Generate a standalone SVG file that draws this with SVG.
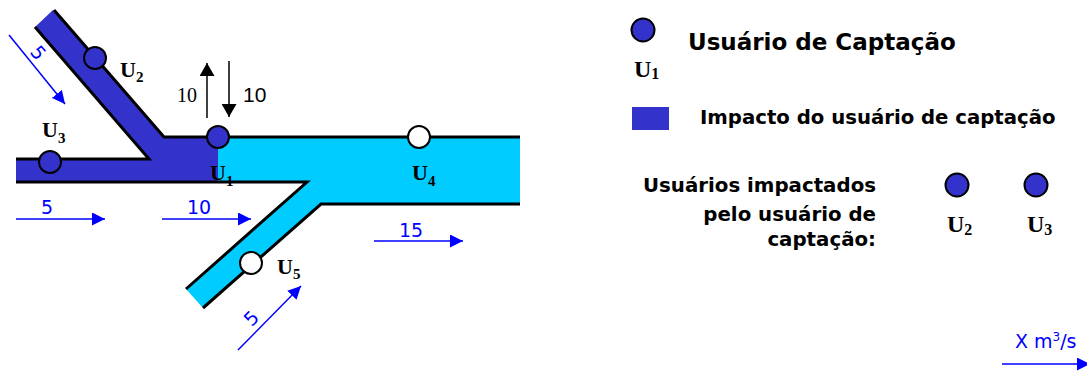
<svg xmlns="http://www.w3.org/2000/svg" width="1087" height="371" viewBox="0 0 1087 371">
<style>
.edge{fill:none;stroke:#000;stroke-width:3;stroke-linejoin:miter}
.node{stroke:#000;stroke-width:2}
.imp{fill:#3333CC}
.free{fill:#FFFFFF}
.ulab{font-family:"Liberation Serif",serif;font-weight:bold;font-size:22px;fill:#000}
.usub{font-size:15px}
.ulab.big{font-size:24px}
.big .usub{font-size:16px}
.flow{font-family:"DejaVu Sans",sans-serif;font-size:19px;fill:#0000FF}
.blue{stroke:#0000FF;stroke-width:1.5;fill:none}
.blk{stroke:#000;stroke-width:1.5;fill:none}
.leg{font-family:"DejaVu Sans",sans-serif;font-weight:bold;fill:#000}
</style>
<defs>
<marker id="ab" markerUnits="userSpaceOnUse" markerWidth="14" markerHeight="13" refX="13" refY="6.5" orient="auto"><path d="M0,0 L13,6.5 L0,13 z" fill="#0000FF"/></marker>
<marker id="ak" markerUnits="userSpaceOnUse" markerWidth="14" markerHeight="15" refX="13" refY="7.5" orient="auto"><path d="M0,0 L13,7.5 L0,15 z" fill="#000"/></marker>
</defs>
<g id="river">
<polygon points="53,10 164,137 218,137 218,182 16,182 16,159 149,159 35,27" fill="#3333CC"/>
<polygon points="218,137 520,137 520,204 321,204 203,308 186,289 307,182 218,182" fill="#00CCFF"/>
<polyline class="edge" points="54,10 164,137 520,137"/>
<polyline class="edge" points="35,27 149,159 16,159"/>
<polyline class="edge" points="16,182 307,182 186,289"/>
<polyline class="edge" points="203,308 321,204 520,204"/>
</g>
<g id="connectors">
<line class="blue" x1="9" y1="35" x2="65" y2="104" marker-end="url(#ab)"/>
<line class="blue" x1="16" y1="219" x2="105" y2="219" marker-end="url(#ab)"/>
<line class="blue" x1="162" y1="219" x2="251" y2="219" marker-end="url(#ab)"/>
<line class="blue" x1="374" y1="241" x2="463" y2="241" marker-end="url(#ab)"/>
<line class="blue" x1="238" y1="350" x2="301" y2="286" marker-end="url(#ab)"/>
<line class="blk" x1="207" y1="118" x2="207" y2="63" marker-end="url(#ak)"/>
<line class="blk" x1="229" y1="61" x2="229" y2="117" marker-end="url(#ak)"/>
<line class="blue" x1="1002" y1="364" x2="1090" y2="364" marker-end="url(#ab)"/>
<text class="flow" text-anchor="middle" transform="translate(33,57) rotate(51)">5</text>
<text class="flow" x="41" y="214">5</text>
<text class="flow" x="187" y="214">10</text>
<text class="flow" x="399" y="237">15</text>
<text class="flow" text-anchor="middle" transform="translate(256,323) rotate(-45)">5</text>
<text x="177" y="102" font-family="Liberation Serif,serif" font-size="20" fill="#000">10</text>
<text x="243" y="102" font-family="Liberation Sans,sans-serif" font-size="21" fill="#000">10</text>
<text class="flow" x="1015" y="348">X m<tspan style="font-size:12px" dy="-7">3</tspan><tspan dy="7">/s</tspan></text>
</g>
<g id="U1">
<circle class="node imp" cx="218" cy="137" r="11"/>
<text class="ulab" x="210" y="180">U<tspan class="usub" dy="6">1</tspan></text>
</g>
<g id="U2">
<circle class="node imp" cx="95" cy="58" r="11"/>
<text class="ulab" x="120" y="77">U<tspan class="usub" dy="5">2</tspan></text>
</g>
<g id="U3">
<circle class="node imp" cx="50" cy="162" r="11"/>
<text class="ulab" x="42" y="137">U<tspan class="usub" dy="6">3</tspan></text>
</g>
<g id="U4">
<circle class="node free" cx="419" cy="137" r="11"/>
<text class="ulab" x="412" y="180">U<tspan class="usub" dy="6">4</tspan></text>
</g>
<g id="U5">
<circle class="node free" cx="251" cy="263" r="11"/>
<text class="ulab" x="277" y="274">U<tspan class="usub" dy="5">5</tspan></text>
</g>
<g id="legend-captacao">
<circle class="node imp" cx="643" cy="30" r="11.5"/>
<text class="ulab big" x="634" y="77">U<tspan class="usub" dy="2">1</tspan></text>
<text class="leg" x="688" y="50" font-size="23">Usuário de Captação</text>
</g>
<g id="legend-impacto">
<rect x="632" y="107" width="37" height="23" fill="#3333CC"/>
<text class="leg" x="700" y="124" font-size="19.7">Impacto do usuário de captação</text>
</g>
<g id="legend-impactados">
<text class="leg" font-size="19.8" text-anchor="end"><tspan x="876" y="192">Usuários impactados</tspan><tspan x="876" y="221">pelo usuário de</tspan><tspan x="876" y="246">captação:</tspan></text>
<circle class="node imp" cx="957" cy="185" r="11.5"/>
<text class="ulab big" x="947" y="232">U<tspan class="usub" dy="3">2</tspan></text>
<circle class="node imp" cx="1036" cy="185" r="11.5"/>
<text class="ulab big" x="1027" y="232">U<tspan class="usub" dy="3">3</tspan></text>
</g>
</svg>
